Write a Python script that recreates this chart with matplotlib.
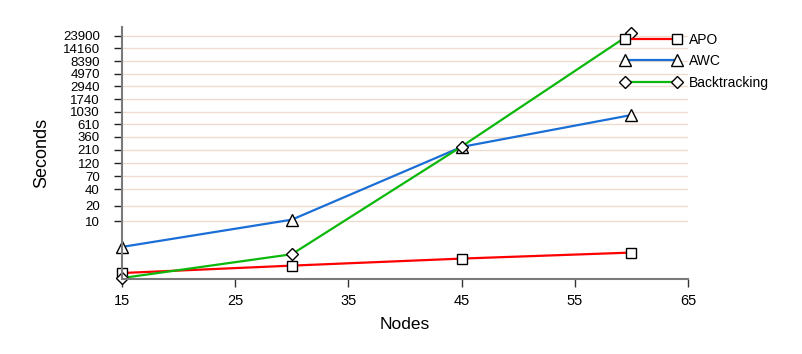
import numpy as np
import matplotlib
matplotlib.use("Agg")
import matplotlib.pyplot as plt

# data (seconds per node count)
nodes = [15, 30, 45, 60]
apo = [0.28, 0.74, 1.33, 1.99]
awc = [2.78, 10.7, 238, 896]
backtracking = [0.04, 1.79, 242, 26600]

y_ticks = [10, 20, 40, 70, 120, 210, 360, 610, 1030, 1740, 2940, 4970, 8390, 14160, 23900]
x_ticks = [15, 25, 35, 45, 55, 65]

plt.rcParams['font.family'] = ['Liberation Sans', 'DejaVu Sans']

fig = plt.figure(figsize=(8.03, 3.54), dpi=100)
ax = fig.add_axes([0.1519, 0.2119, 0.8568 - 0.1519, 0.9237 - 0.2119])

# log(y + 1) axis
ax.set_yscale('function', functions=(lambda v: np.log1p(np.clip(v, 0, None)), np.expm1))

grid_col = '#eedcd0'
for t in y_ticks:
    ax.axhline(t, color=grid_col, lw=1.0, zorder=0)

mk = dict(markerfacecolor='white', markeredgecolor='black', markeredgewidth=1.0)
ax.plot(nodes, apo, color='#ff0000', lw=1.6, marker='s', markersize=7.2, label='APO', clip_on=False, **mk)
ax.plot(nodes, awc, color='#1a6fd6', lw=1.6, marker='^', markersize=8.5, label='AWC', clip_on=False, **mk)
ax.plot(nodes, backtracking, color='#0cb80c', lw=1.6, marker='D', markersize=6.2,
        label='Backtracking', clip_on=False, **mk)

ax.set_xlim(15, 65)
ax.set_ylim(0, 34500)
ax.set_xticks(x_ticks)
ax.set_yticks(y_ticks)
ax.set_yticklabels([str(t) for t in y_ticks])
ax.minorticks_off()

for s in ['top', 'right']:
    ax.spines[s].set_visible(False)
for s in ['left', 'bottom']:
    ax.spines[s].set_color('#7a7a7a')
    ax.spines[s].set_linewidth(1.5)

ax.tick_params(axis='x', length=6, width=1.0, color='#333333', pad=5, labelsize=10.5)
ax.tick_params(axis='y', length=6, width=1.0, color='#222222', pad=10, labelsize=9.5)

ax.set_xlabel('Nodes', fontsize=12.5, labelpad=6.5)
ax.set_ylabel('Seconds', fontsize=13, labelpad=9)

leg = ax.legend(loc='upper left', bbox_to_anchor=(621 / 803, 1 - 33 / 354),
                bbox_transform=fig.transFigure, frameon=False, numpoints=2,
                handlelength=4.3, handletextpad=0.6, labelspacing=0.53, fontsize=10,
                borderaxespad=0, borderpad=0)

fig.savefig('out.png', dpi=100)
